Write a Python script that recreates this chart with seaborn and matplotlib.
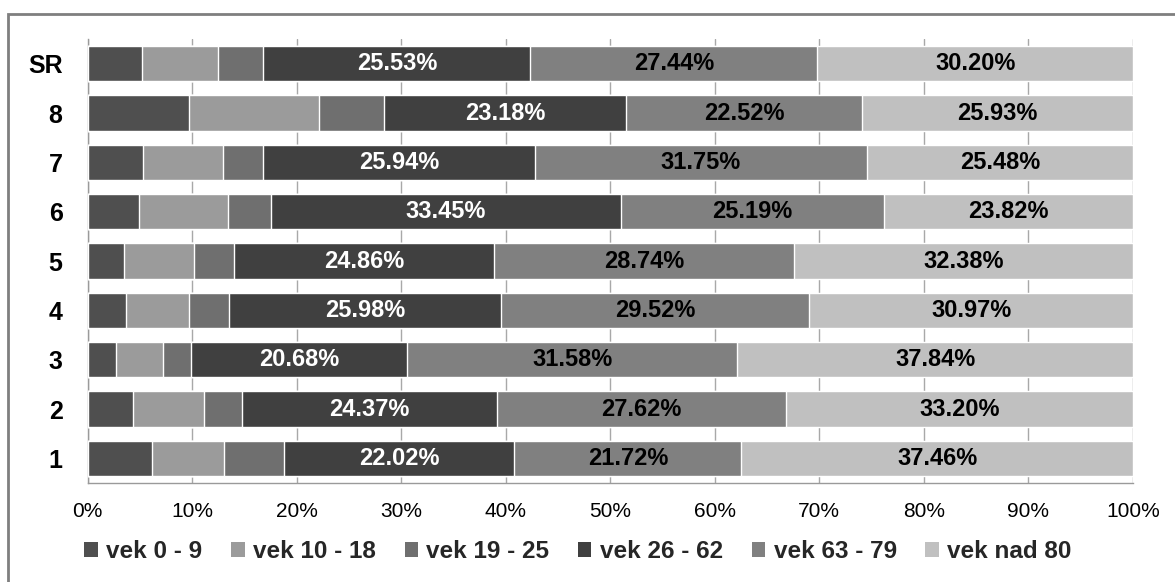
import numpy as np
import pandas as pd
import matplotlib
matplotlib.use("Agg")
import matplotlib.pyplot as plt
from matplotlib.patches import Patch, Rectangle
from matplotlib.ticker import MultipleLocator
import seaborn as sns

# data (percent of each row)
regions = ["SR", "8", "7", "6", "5", "4", "3", "2", "1"]
age_groups = ["vek 0 - 9", "vek 10 - 18", "vek 19 - 25",
              "vek 26 - 62", "vek 63 - 79", "vek nad 80"]
vek_0_9 = [5.19, 9.74, 5.34, 4.96, 3.49, 3.72, 2.70, 4.32, 6.17]
vek_10_18 = [7.33, 12.38, 7.60, 8.45, 6.73, 5.99, 4.49, 6.83, 6.92]
vek_19_25 = [4.31, 6.25, 3.89, 4.13, 3.80, 3.82, 2.71, 3.66, 5.71]
vek_26_62 = [25.53, 23.18, 25.94, 33.45, 24.86, 25.98, 20.68, 24.37, 22.02]
vek_63_79 = [27.44, 22.52, 31.75, 25.19, 28.74, 29.52, 31.58, 27.62, 21.72]
vek_nad_80 = [30.20, 25.93, 25.48, 23.82, 32.38, 30.97, 37.84, 33.20, 37.46]

colors = ["#4f4f4f", "#9b9b9b", "#6f6f6f", "#404040", "#808080", "#c0c0c0"]
label_colors = [None, None, None, "white", "black", "black"]

sns.set_style("white")
plt.rcParams["font.family"] = ["Liberation Sans", "DejaVu Sans"]

df = pd.DataFrame({"region": regions})
series = [vek_0_9, vek_10_18, vek_19_25, vek_26_62, vek_63_79, vek_nad_80]
for name, vals in zip(age_groups, series):
    df[name] = vals
cum = df[age_groups].cumsum(axis=1)

fig = plt.figure(figsize=(11.75, 5.82), dpi=100)
ax = fig.add_axes([87.5 / 1175, 1 - 483 / 582, (1133 - 87.5) / 1175, (483 - 39) / 582])

# stacked bars: draw cumulative totals from the widest down
for i in range(len(age_groups) - 1, -1, -1):
    sns.barplot(x=cum[age_groups[i]], y=df["region"], orient="h",
                color=colors[i], width=0.71, saturation=1, ax=ax, zorder=3,
                order=regions)

# value labels on the three big segments
for i in range(3, 6):
    for j, r in enumerate(regions):
        v = df[age_groups[i]].iloc[j]
        mid = cum[age_groups[i]].iloc[j] - v / 2
        ax.text(mid, j, f"{v:.2f}%", ha="center", va="center",
                color=label_colors[i], fontsize=17, fontweight="bold", zorder=5)

ax.set_xlim(0, 100)
ax.set_ylim(len(regions) - 0.5, -0.5)
ax.xaxis.set_major_locator(MultipleLocator(10))
ax.set_xticklabels([f"{int(t)}%" for t in ax.get_xticks()])
ax.set_xlabel("")
ax.set_ylabel("")

ax.grid(axis="x", color="#a8a8a8", linewidth=1, zorder=0)
ax.set_axisbelow(True)
for s in ["top", "right"]:
    ax.spines[s].set_visible(False)
for s in ["left", "bottom"]:
    ax.spines[s].set_color("#9a9a9a")
    ax.spines[s].set_linewidth(1)

ax.tick_params(axis="x", length=6, color="#9a9a9a", pad=8, labelsize=15, labelcolor="black")
ax.tick_params(axis="y", which="major", length=0, pad=18, labelsize=18, labelcolor="black")
ax.set_yticks(np.arange(-0.5, len(regions), 1.0), minor=True)
ax.tick_params(axis="y", which="minor", length=6, color="#9a9a9a")
for lbl in ax.get_yticklabels():
    lbl.set_fontweight("bold")

handles = [Patch(facecolor=c, edgecolor="none") for c in colors]
fig.legend(handles, age_groups, loc="center", bbox_to_anchor=(0.492, 0.052),
           ncol=6, frameon=False, handlelength=0.55, handleheight=0.55,
           handletextpad=0.35, columnspacing=1.18,
           prop={"size": 17.5, "weight": "bold"})

# outer chart border
fig.patches.append(Rectangle((8 / 1175, -0.1), 1.2, 1 - 14 / 582 + 0.1,
                             transform=fig.transFigure, fill=False,
                             edgecolor="#7f7f7f", linewidth=2))

fig.savefig("out.png", dpi=100)
